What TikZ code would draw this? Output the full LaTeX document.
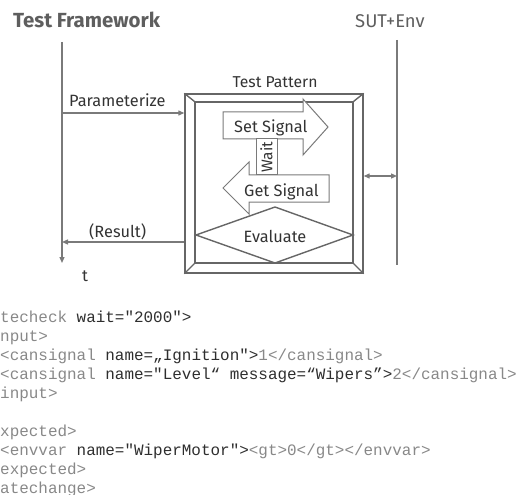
\documentclass[tikz,border=0pt]{standalone}
\usepackage{fontspec}
\usetikzlibrary{arrows.meta}
\newfontfamily\dfont{Fira Sans}
\newfontfamily\cfont{Liberation Mono}
\definecolor{lineg}{HTML}{7A7A7A}
\definecolor{boxg}{HTML}{666666}
\definecolor{txtd}{HTML}{333333}
\definecolor{ttl}{HTML}{5E5E5E}
\definecolor{codel}{HTML}{888888}
\definecolor{coded}{HTML}{2E2E2E}
\begin{document}
\begin{tikzpicture}[x=1bp,y=-1bp,
  lbl/.style={inner sep=0pt,anchor=base west,text=txtd,font=\dfont\fontsize{16.4}{18}\selectfont},
  ttlstyle/.style={inner sep=0pt,anchor=base west,text=ttl,font=\dfont\fontsize{18.5}{20}\selectfont},
  codeline/.style={inner sep=0pt,anchor=base west,text=codel,font=\cfont\fontsize{16}{19}\selectfont},
  tline/.style={draw=lineg,line width=1.3bp},
  conn/.style={draw=lineg,line width=1.3bp,-{Triangle[length=6bp,width=5bp]}},
  dconn/.style={draw=lineg,line width=1.3bp,{Triangle[length=6bp,width=5bp]}-{Triangle[length=6bp,width=5bp]}},
  boxline/.style={draw=boxg,line width=1.4bp},
  shp/.style={draw=lineg,line width=1bp,fill=white}]
\useasboundingbox (0,0) rectangle (518,495);

% titles
\node[ttlstyle,font=\dfont\bfseries\fontsize{20.5}{22}\selectfont] (tf) at (13,28) {Test Framework};
\node[ttlstyle] (sut) at (355,28) {SUT+Env};

% timelines
\coordinate (tfTop) at (62,42);
\coordinate (tfBot) at (62,263);
\coordinate (tfPar) at (62,113);
\coordinate (tfRes) at (62,242);
\draw[conn] (tfTop) -- (tfBot);
\coordinate (sutTop) at (397,40);
\coordinate (sutBot) at (397,265);
\coordinate (sutMid) at (397,176);
\draw[tline] (sutTop) -- (sutBot);

% test pattern frame
\node[boxline,minimum width=178bp,minimum height=179bp,inner sep=0pt] (outer) at (274,183.5) {};
\node[boxline,minimum width=158bp,minimum height=161bp,inner sep=0pt] (inner) at (274,182.5) {};
\draw[boxline] (outer.north west) -- (inner.north west);
\draw[boxline] (outer.north east) -- (inner.north east);
\draw[boxline] (outer.south west) -- (inner.south west);
\draw[boxline] (outer.south east) -- (inner.south east);
\node[lbl,anchor=base,font=\dfont\fontsize{15.8}{18}\selectfont] (tp) at (275,88) {Test Pattern};

% connectors
\coordinate (parEnd) at (outer.west |- tfPar);
\coordinate (resStart) at (outer.west |- tfRes);
\coordinate (outMid) at (outer.east |- sutMid);
\draw[conn] (tfPar) -- (parEnd);
\draw[conn] (resStart) -- (tfRes);
\draw[dconn] (outMid) -- (sutMid);
\node[lbl] (par) at (69,107) {Parameterize};
\node[lbl] (res) at (89,237) {(Result)};
\node[lbl] (t) at (82,281) {t};

% evaluate diamond
\draw[boxline,fill=white] (196,235) coordinate (dl) -- (275,207) coordinate (dt) -- (353,235) coordinate (dr) -- (275,263) coordinate (db) -- cycle;
\node[lbl,anchor=base] (eval) at (275,242) {Evaluate};

% get signal arrow (left)
\draw[shp] (329,175) -- (249,175) -- (249,162) -- (223,188) -- (249,214) -- (249,202) -- (329,202) -- cycle;
\node[lbl] (gs) at (244,197) {Get Signal};

% set signal arrow (right)
\draw[shp] (223,112) -- (303,112) -- (303,99) -- (328,127) -- (303,155) -- (303,139) -- (223,139) -- cycle;
\node[lbl] (ss) at (234,133) {Set Signal};

% wait box
\node[shp,minimum width=21bp,minimum height=36bp,inner sep=0pt] (waitbox) at (266.5,157) {};
\node[inner sep=0pt,rotate=90,text=txtd,font=\dfont\fontsize{15.5}{17}\selectfont] (wait) at (waitbox.center) {Wait};

% code
\node[codeline] (c1) at (0,322) {techeck \textcolor{coded}{wait="2000">}};
\node[codeline] (c2) at (0,341) {nput>};
\node[codeline] (c3) at (0,360) {<cansignal \textcolor{coded}{name=„Ignition">}1</cansignal>};
\node[codeline] (c4) at (0,379) {<cansignal \textcolor{coded}{name="Level“ message=“Wipers”>}2</cansignal>};
\node[codeline] (c5) at (0,398) {input>};
\node[codeline] (c6) at (0,436) {xpected>};
\node[codeline] (c7) at (0,455) {<envvar \textcolor{coded}{name="WiperMotor">}<gt>0</gt></envvar>};
\node[codeline] (c8) at (0,474) {expected>};
\node[codeline] (c9) at (0,493) {atechange>};
\end{tikzpicture}
\end{document}
